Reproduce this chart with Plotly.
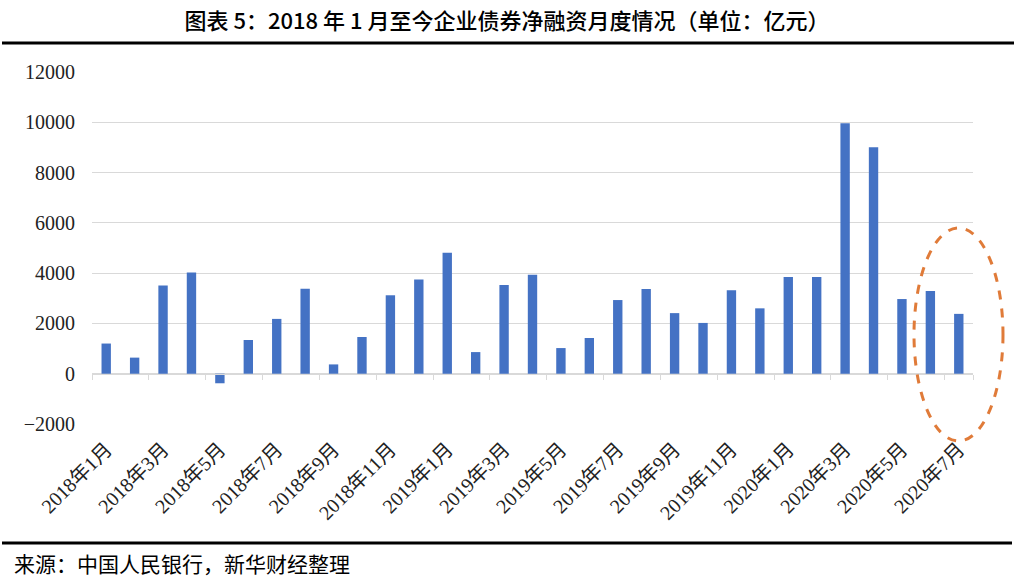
import plotly.graph_objects as go

months = [f"{y}年{m}月" for y in (2018, 2019, 2020) for m in range(1, 13)][:31]
values = [1200, 640, 3510, 4030, -380, 1340, 2180, 3380, 370, 1460, 3120, 3750,
          4810, 860, 3530, 3940, 1020, 1420, 2930, 3370, 2410, 2020, 3320, 2600,
          3850, 3850, 9960, 9010, 2970, 3290, 2380]
tick_labels = months[::2]
y_ticks = list(range(-2000, 12001, 2000))
y_tick_text = [("\u2212" + str(-v)) if v < 0 else str(v) for v in y_ticks]

title_text = "图表 5：2018 年 1 月至今企业债券净融资月度情况（单位：亿元）"
source_text = "来源：中国人民银行，新华财经整理"

serif = "Liberation Serif, 'Noto Sans CJK SC', serif"
sans = "'Noto Sans CJK SC', 'Noto Sans', sans-serif"

W, H = 1018, 588
L, T, R, B = 92, 72, 973, 424  # plot area in window pixels

fig = go.Figure(go.Bar(x=months, y=values, marker=dict(color="#4472C4", line=dict(width=0))))

fig.update_layout(
    width=W, height=H,
    margin=dict(l=L, r=W - R, t=T, b=H - B, autoexpand=False),
    paper_bgcolor="white", plot_bgcolor="white",
    bargap=0.67,
    showlegend=False,
    hovermode=False,
    title=dict(text=title_text, x=(507 - L) / (R - L), xref="paper", xanchor="center",
               y=1 - 21 / H, yref="container", yanchor="middle",
               font=dict(family=sans, size=22, color="black", weight=500)),
)

fig.update_xaxes(
    type="category", categoryorder="array", categoryarray=months,
    tickmode="array", tickvals=tick_labels, ticktext=tick_labels,
    tickangle=-45, tickfont=dict(family=serif, size=20, color="#222"),
    anchor="free", position=2000 / 14000,
    showline=True, linecolor="#d9d9d9", linewidth=1,
    ticks="outside", tickson="boundaries", ticklen=5, tickcolor="#d9d9d9",
    ticklabelstandoff=55,
    showgrid=False, zeroline=False,
)
fig.update_yaxes(
    range=[-2000, 12000], tickmode="array", tickvals=y_ticks, ticktext=y_tick_text,
    tickfont=dict(family=serif, size=20, color="#222"),
    showgrid=True, gridcolor="#d9d9d9", gridwidth=1,
    zeroline=False, showline=False, ticks="", ticklabelstandoff=16,
)

def px(xp):
    return (xp - L) / (R - L)

def py(yp):
    return (B - yp) / (B - T)

# decorative rules
fig.add_shape(type="line", xref="paper", yref="paper",
              x0=px(2), x1=px(1014), y0=py(43), y1=py(43),
              line=dict(color="black", width=3))
fig.add_shape(type="line", xref="paper", yref="paper",
              x0=px(2), x1=px(1012), y0=py(543), y1=py(543),
              line=dict(color="black", width=3))
# highlight ellipse
fig.add_shape(type="circle", xref="paper", yref="paper",
              x0=px(914), x1=px(1003), y0=py(441), y1=py(228),
              line=dict(color="#E07B39", width=3, dash="dash"))

fig.add_annotation(text=source_text, xref="paper", yref="paper",
                   x=px(12), y=py(563), xanchor="left", yanchor="middle",
                   showarrow=False, font=dict(family=sans, size=21, color="black"))

fig.write_html("out.html", config={"displayModeBar": False},
               post_script="document.body.style.margin='0';document.body.style.overflow='hidden';")
